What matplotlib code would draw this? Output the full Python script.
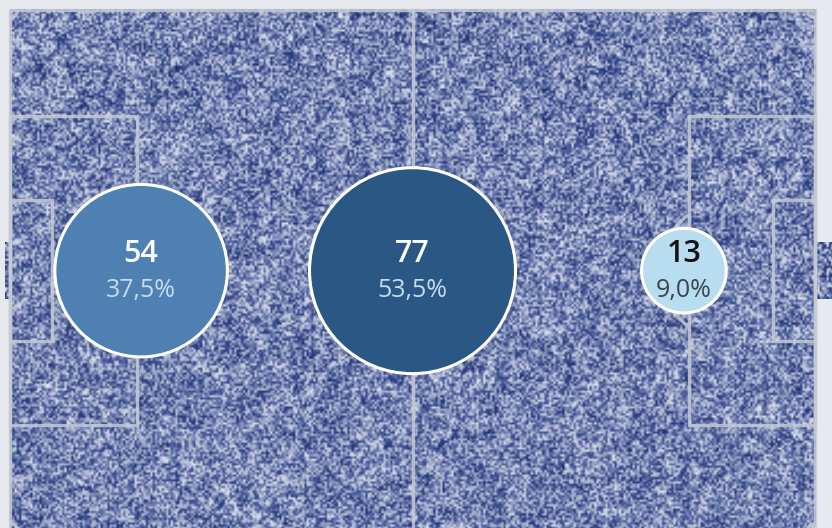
import numpy as np
import matplotlib
matplotlib.use("Agg")
from matplotlib import pyplot as plt
from matplotlib.patches import Rectangle, Arc, Circle
from matplotlib.colors import LinearSegmentedColormap

# shots per third of the pitch
zones = ["Defensive third", "Middle third", "Attacking third"]
counts = [54, 77, 13]
bubble_colors = ["#4e80b2", "#2a5784", "#b8dcf0"]
number_colors = ["white", "white", "#111111"]
pct_colors = ["#c6dcef", "#c6dcef", "#3a4650"]

########################################################################
PITCH_L = 105.0
PITCH_W = 68.0
PX_PER_M = 7.667
TOP_PX = 10
LEFT_PX = 10
BG = "#e6eaee"
LINE = "#c3cad4"
########################################################################

fig = plt.figure(figsize=(8.32, 5.28), dpi=100, facecolor=BG)
ax = fig.add_axes([0, 0, 1, 1])
ax.set_facecolor(BG)

# grainy pitch texture (decoration only): fine grain + a little blotchiness
rng = np.random.default_rng(7)
tex_cmap = LinearSegmentedColormap.from_list(
    "tex", ["#1b2a6c", "#3e5090", "#7584b2", "#b4bdd6", "#e4e8f0"])
fine = rng.random((230, 356))
coarse = np.kron(rng.random((46, 72)), np.ones((5, 5)))[:230, :356]
grain = 0.75 * fine + 0.25 * coarse
grain = (grain - grain.min()) / (grain.max() - grain.min())
ax.imshow(grain, cmap=tex_cmap, extent=(0, PITCH_L, PITCH_W, 0), interpolation="bilinear", zorder=1)
goal_w = 7.32
for gx0, gx1 in [(-0.7, 0), (PITCH_L, PITCH_L + 2.4)]:
    g = rng.random((24, max(3, int((gx1 - gx0) * 3.5))))
    ax.imshow(g, cmap=tex_cmap, extent=(gx0, gx1, PITCH_W / 2 + goal_w / 2, PITCH_W / 2 - goal_w / 2),
              interpolation="bilinear", zorder=1)
ax.set_xlim(-LEFT_PX / PX_PER_M, (832 - LEFT_PX) / PX_PER_M)
ax.set_ylim((528 - TOP_PX) / PX_PER_M, -TOP_PX / PX_PER_M)
ax.set_aspect("auto")
ax.axis("off")

# pitch markings
lw = 2.4
kw = dict(fill=False, ec=LINE, lw=lw, alpha=0.85, zorder=2)
ax.add_patch(Rectangle((0, 0), PITCH_L, PITCH_W, **kw))
ax.plot([PITCH_L / 2, PITCH_L / 2], [0, PITCH_W], color=LINE, lw=lw, alpha=0.85, zorder=2)
ax.add_patch(Circle((PITCH_L / 2, PITCH_W / 2), 9.15, **kw))
for side in [0, 1]:
    x0 = 0 if side == 0 else PITCH_L - 16.5
    ax.add_patch(Rectangle((x0, PITCH_W / 2 - 20.16), 16.5, 40.32, **kw))
    x0 = 0 if side == 0 else PITCH_L - 5.5
    ax.add_patch(Rectangle((x0, PITCH_W / 2 - 9.16), 5.5, 18.32, **kw))
    spot = 11 if side == 0 else PITCH_L - 11
    t1, t2 = (-53, 53) if side == 0 else (127, 233)
    ax.add_patch(Arc((spot, PITCH_W / 2), 18.3, 18.3, theta1=t1, theta2=t2, ec=LINE, lw=lw, alpha=0.85, zorder=2))
for cx, cy, t1 in [(0, 0, 0), (PITCH_L, 0, 90), (0, PITCH_W, 270), (PITCH_L, PITCH_W, 180)]:
    ax.add_patch(Arc((cx, cy), 2, 2, theta1=t1, theta2=t1 + 90, ec=LINE, lw=lw, alpha=0.85, zorder=2))

# bubbles, area proportional to count
total = sum(counts)
spacing = 35.4
xs = [PITCH_L / 2 + (i - 1) * spacing for i in range(len(zones))]
ys = [PITCH_W / 2] * len(zones)
r_max_pt = 103 / (100 / 72)
sizes = [(2 * r_max_pt) ** 2 * c / max(counts) for c in counts]
ax.scatter(xs, ys, s=sizes, c=bubble_colors, edgecolors="white", linewidths=2.2, zorder=3)

for i, c in enumerate(counts):
    pct = f"{100 * c / total:.1f}%".replace(".", ",")
    ax.annotate(str(c), (xs[i], ys[i]), xytext=(0, 12), textcoords="offset points",
                ha="center", va="center", fontsize=22, color=number_colors[i],
                family=["Open Sans", "DejaVu Sans"], weight="semibold", zorder=4)
    ax.annotate(pct, (xs[i], ys[i]), xytext=(0, -14), textcoords="offset points",
                ha="center", va="center", fontsize=18, color=pct_colors[i],
                family=["Open Sans", "DejaVu Sans"], zorder=4)

fig.savefig("out.png", dpi=100, facecolor=BG)
